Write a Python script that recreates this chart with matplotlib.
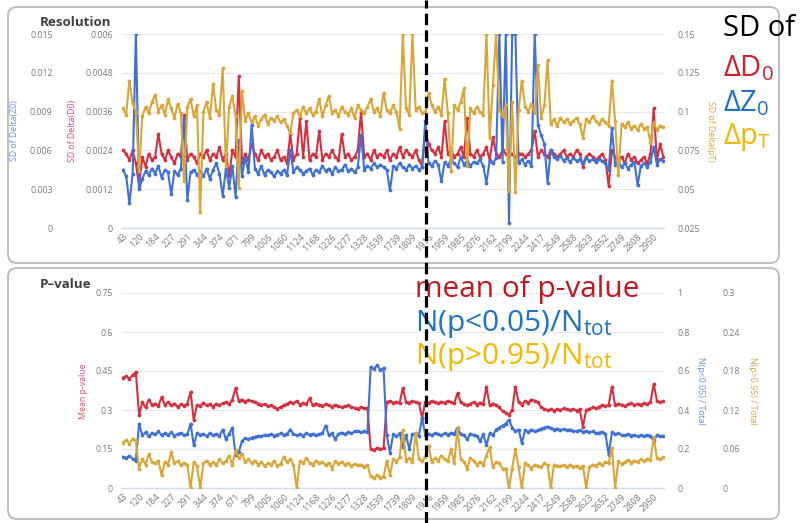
import matplotlib
matplotlib.use('Agg')
import matplotlib.pyplot as plt
from matplotlib.patches import FancyBboxPatch
from matplotlib.lines import Line2D
from matplotlib.transforms import IdentityTransform

plt.rcParams['font.family'] = ['Open Sans', 'DejaVu Sans']
plt.rcParams['mathtext.fontset'] = 'custom'
plt.rcParams['mathtext.rm'] = 'Open Sans'
plt.rcParams['mathtext.it'] = 'Open Sans:italic'
plt.rcParams['mathtext.bf'] = 'Open Sans:bold'

# ---------------- data ----------------
run_labels = ['43', '120', '184', '227', '291', '344', '374', '671', '799', '1005',
              '1060', '1124', '1168', '1226', '1277', '1328', '1539', '1739', '1809',
              '1916', '1959', '1985', '2076', '2162', '2199', '2244', '2417', '2549',
              '2588', '2623', '2652', '2749', '2808', '2950']
label_step = 5

sd_d0 = [
    0.0024, 0.0023, 0.0021, 0.0024, 0.0020, 0.0013, 0.0022, 0.0019, 0.0023, 0.0021,
    0.0022, 0.0029, 0.0023, 0.0021, 0.0024, 0.0022, 0.0020, 0.0023, 0.0022, 0.0035,
    0.0021, 0.0023, 0.0022, 0.0020, 0.0023, 0.0022, 0.0024, 0.0021, 0.0023, 0.0022,
    0.0025, 0.0021, 0.0023, 0.0016, 0.0024, 0.0022, 0.0047, 0.0020, 0.0023, 0.0021,
    0.0026, 0.0023, 0.0021, 0.0024, 0.0022, 0.0023, 0.0021, 0.0022, 0.0024, 0.0021,
    0.0022, 0.0020, 0.0029, 0.0021, 0.0023, 0.0034, 0.0022, 0.0033, 0.0021, 0.0023,
    0.0022, 0.0030, 0.0021, 0.0023, 0.0022, 0.0024, 0.0022, 0.0021, 0.0029, 0.0022,
    0.0023, 0.0021, 0.0022, 0.0024, 0.0036, 0.0022, 0.0023, 0.0021, 0.0024, 0.0022,
    0.0023, 0.0022, 0.0024, 0.0021, 0.0023, 0.0022, 0.0025, 0.0022, 0.0024, 0.0023,
    0.0022, 0.0024, 0.0021, 0.0019, 0.0030, 0.0026, 0.0024, 0.0023, 0.0025, 0.0022,
    0.0033, 0.0023, 0.0024, 0.0022, 0.0023, 0.0025, 0.0022, 0.0034, 0.0023, 0.0022,
    0.0024, 0.0022, 0.0023, 0.0025, 0.0021, 0.0028, 0.0023, 0.0022, 0.0024, 0.0023,
    0.0023, 0.0023, 0.0022, 0.0023, 0.0023, 0.0022, 0.0023, 0.0024, 0.0030, 0.0022,
    0.0024, 0.0023, 0.0022, 0.0024, 0.0023, 0.0022, 0.0023, 0.0024, 0.0022, 0.0023,
    0.0022, 0.0024, 0.0023, 0.0019, 0.0022, 0.0023, 0.0022, 0.0021, 0.0022, 0.0023,
    0.0021, 0.0013, 0.0024, 0.0022, 0.0021, 0.0022, 0.0020, 0.0023, 0.0021, 0.0022,
    0.0020, 0.0021, 0.0022, 0.0020, 0.0023, 0.0037, 0.0021, 0.0026, 0.0022,
]

sd_z0 = [
    0.0045, 0.0040, 0.0019, 0.0042, 0.0150, 0.0030, 0.0038, 0.0044, 0.0041, 0.0046,
    0.0042, 0.0048, 0.0039, 0.0045, 0.0043, 0.0026, 0.0044, 0.0041, 0.0046, 0.0085,
    0.0022, 0.0043, 0.0045, 0.0041, 0.0044, 0.0040, 0.0046, 0.0038, 0.0045, 0.0050,
    0.0042, 0.0025, 0.0046, 0.0031, 0.0048, 0.0024, 0.0068, 0.0040, 0.0055, 0.0043,
    0.0080, 0.0046, 0.0042, 0.0048, 0.0041, 0.0045, 0.0043, 0.0040, 0.0044, 0.0042,
    0.0045, 0.0041, 0.0060, 0.0043, 0.0047, 0.0045, 0.0042, 0.0044, 0.0046, 0.0041,
    0.0045, 0.0043, 0.0048, 0.0044, 0.0046, 0.0042, 0.0047, 0.0044, 0.0045, 0.0049,
    0.0044, 0.0046, 0.0043, 0.0047, 0.0072, 0.0045, 0.0048, 0.0046, 0.0050, 0.0047,
    0.0049, 0.0047, 0.0045, 0.0029, 0.0048, 0.0046, 0.0050, 0.0047, 0.0045, 0.0049,
    0.0046, 0.0048, 0.0045, 0.0047, 0.0083, 0.0050, 0.0048, 0.0052, 0.0049, 0.0036,
    0.0051, 0.0048, 0.0053, 0.0050, 0.0047, 0.0055, 0.0049, 0.0052, 0.0048, 0.0051,
    0.0050, 0.0053, 0.0048, 0.0035, 0.0052, 0.0050, 0.0054, 0.0150, 0.0051, 0.0150,
    0.0004, 0.0150, 0.0150, 0.0050, 0.0053, 0.0049, 0.0052, 0.0048, 0.0150, 0.0080,
    0.0072, 0.0065, 0.0035, 0.0060, 0.0055, 0.0053, 0.0056, 0.0052, 0.0054, 0.0051,
    0.0054, 0.0052, 0.0053, 0.0050, 0.0054, 0.0052, 0.0053, 0.0051, 0.0053, 0.0052,
    0.0050, 0.0045, 0.0077, 0.0049, 0.0052, 0.0047, 0.0050, 0.0046, 0.0049, 0.0051,
    0.0033, 0.0048, 0.0050, 0.0047, 0.0051, 0.0063, 0.0049, 0.0053, 0.0052,
]

sd_pt = [
    0.102, 0.098, 0.120, 0.105, 0.100, 0.062, 0.097, 0.103, 0.099, 0.106,
    0.111, 0.100, 0.104, 0.098, 0.108, 0.102, 0.096, 0.105, 0.099, 0.055,
    0.103, 0.108, 0.097, 0.104, 0.035, 0.100, 0.106, 0.096, 0.118, 0.101,
    0.098, 0.128, 0.065, 0.103, 0.110, 0.097, 0.051, 0.113, 0.094, 0.099,
    0.093, 0.097, 0.091, 0.095, 0.098, 0.092, 0.096, 0.094, 0.097, 0.093,
    0.095, 0.091, 0.086, 0.099, 0.101, 0.097, 0.103, 0.099, 0.102, 0.098,
    0.100, 0.108, 0.097, 0.104, 0.110, 0.099, 0.101, 0.097, 0.103, 0.100,
    0.098, 0.102, 0.096, 0.104, 0.101, 0.099, 0.103, 0.108, 0.100, 0.102,
    0.097, 0.112, 0.101, 0.099, 0.104, 0.100, 0.089, 0.150, 0.102, 0.098,
    0.150, 0.101, 0.103, 0.099, 0.100, 0.112, 0.104, 0.100, 0.103, 0.098,
    0.121, 0.099, 0.062, 0.104, 0.101, 0.106, 0.115, 0.065, 0.102, 0.099,
    0.103, 0.100, 0.098, 0.150, 0.083, 0.117, 0.150, 0.101, 0.097, 0.104,
    0.049, 0.106, 0.048, 0.101, 0.120, 0.103, 0.100, 0.105, 0.099, 0.130,
    0.096, 0.104, 0.133, 0.092, 0.095, 0.091, 0.096, 0.093, 0.095, 0.092,
    0.094, 0.096, 0.092, 0.083, 0.095, 0.093, 0.097, 0.094, 0.092, 0.095,
    0.093, 0.091, 0.120, 0.094, 0.059, 0.092, 0.090, 0.093, 0.089, 0.091,
    0.088, 0.092, 0.089, 0.090, 0.080, 0.093, 0.088, 0.091, 0.090,
]

mean_p = [
    0.425, 0.430, 0.420, 0.435, 0.445, 0.280, 0.330, 0.310, 0.340, 0.320,
    0.325, 0.315, 0.350, 0.320, 0.330, 0.318, 0.325, 0.312, 0.322, 0.316,
    0.325, 0.370, 0.260, 0.320, 0.315, 0.328, 0.318, 0.322, 0.312, 0.324,
    0.318, 0.326, 0.330, 0.322, 0.340, 0.385, 0.335, 0.340, 0.332, 0.338,
    0.335, 0.330, 0.325, 0.320, 0.322, 0.315, 0.318, 0.310, 0.305, 0.312,
    0.318, 0.324, 0.330, 0.326, 0.335, 0.320, 0.328, 0.322, 0.345, 0.318,
    0.325, 0.320, 0.316, 0.322, 0.318, 0.312, 0.320, 0.316, 0.310, 0.314,
    0.318, 0.312, 0.308, 0.305, 0.310, 0.306, 0.308, 0.150, 0.145, 0.155,
    0.150, 0.152, 0.330, 0.335, 0.328, 0.332, 0.326, 0.385, 0.330, 0.328,
    0.335, 0.330, 0.326, 0.270, 0.332, 0.328, 0.335, 0.330, 0.326, 0.332,
    0.328, 0.335, 0.330, 0.326, 0.365, 0.330, 0.322, 0.318, 0.325, 0.330,
    0.320, 0.328, 0.322, 0.390, 0.318, 0.325, 0.320, 0.310, 0.295, 0.290,
    0.280, 0.300, 0.390, 0.330, 0.320, 0.335, 0.328, 0.340, 0.336, 0.330,
    0.310, 0.305, 0.300, 0.302, 0.298, 0.304, 0.300, 0.306, 0.302, 0.300,
    0.304, 0.298, 0.302, 0.235, 0.300, 0.304, 0.310, 0.306, 0.312, 0.318,
    0.315, 0.320, 0.390, 0.318, 0.325, 0.320, 0.315, 0.322, 0.326, 0.318,
    0.324, 0.320, 0.326, 0.322, 0.330, 0.400, 0.335, 0.330, 0.334,
]

frac_low = [
    0.160, 0.155, 0.165, 0.150, 0.140, 0.330, 0.270, 0.285, 0.265, 0.280,
    0.275, 0.290, 0.270, 0.280, 0.272, 0.285, 0.268, 0.278, 0.282, 0.270,
    0.275, 0.330, 0.220, 0.280, 0.272, 0.278, 0.265, 0.282, 0.270, 0.276,
    0.268, 0.300, 0.250, 0.278, 0.310, 0.170, 0.185, 0.240, 0.255, 0.250,
    0.258, 0.262, 0.268, 0.265, 0.272, 0.270, 0.276, 0.268, 0.274, 0.280,
    0.272, 0.278, 0.300, 0.276, 0.270, 0.275, 0.268, 0.280, 0.273, 0.278,
    0.270, 0.276, 0.282, 0.320, 0.272, 0.280, 0.250, 0.278, 0.284, 0.276,
    0.285, 0.280, 0.290, 0.292, 0.286, 0.290, 0.285, 0.620, 0.610, 0.630,
    0.605, 0.615, 0.270, 0.180, 0.276, 0.265, 0.280, 0.210, 0.272, 0.200,
    0.275, 0.280, 0.268, 0.360, 0.272, 0.278, 0.270, 0.282, 0.276, 0.270,
    0.280, 0.274, 0.282, 0.278, 0.310, 0.276, 0.270, 0.250, 0.278, 0.272,
    0.268, 0.240, 0.275, 0.220, 0.280, 0.270, 0.300, 0.310, 0.320, 0.330,
    0.350, 0.310, 0.290, 0.300, 0.230, 0.295, 0.288, 0.300, 0.292, 0.296,
    0.305, 0.310, 0.315, 0.306, 0.300, 0.304, 0.298, 0.302, 0.296, 0.300,
    0.294, 0.290, 0.296, 0.288, 0.292, 0.286, 0.290, 0.280, 0.284, 0.288,
    0.278, 0.170, 0.285, 0.276, 0.280, 0.272, 0.270, 0.276, 0.268, 0.272,
    0.265, 0.270, 0.266, 0.272, 0.268, 0.240, 0.270, 0.266, 0.268,
]

frac_high = [
    0.070, 0.074, 0.068, 0.076, 0.072, 0.030, 0.045, 0.036, 0.052, 0.040,
    0.038, 0.042, 0.020, 0.040, 0.036, 0.055, 0.038, 0.041, 0.035, 0.039,
    0.036, 0.000, 0.040, 0.034, 0.000, 0.038, 0.042, 0.036, 0.040, 0.035,
    0.044, 0.038, 0.041, 0.050, 0.036, 0.058, 0.046, 0.052, 0.040, 0.044,
    0.038, 0.042, 0.036, 0.040, 0.034, 0.038, 0.036, 0.041, 0.034, 0.037,
    0.048, 0.040, 0.044, 0.036, 0.000, 0.042, 0.038, 0.046, 0.039, 0.036,
    0.042, 0.038, 0.040, 0.035, 0.039, 0.030, 0.041, 0.037, 0.040, 0.036,
    0.038, 0.034, 0.037, 0.035, 0.036, 0.033, 0.035, 0.018, 0.015, 0.020,
    0.016, 0.017, 0.042, 0.020, 0.045, 0.040, 0.048, 0.090, 0.042, 0.046,
    0.040, 0.085, 0.044, 0.041, 0.048, 0.065, 0.040, 0.046, 0.042, 0.050,
    0.044, 0.041, 0.060, 0.038, 0.092, 0.045, 0.040, 0.030, 0.046, 0.042,
    0.036, 0.040, 0.036, 0.050, 0.063, 0.032, 0.040, 0.038, 0.030, 0.030,
    0.000, 0.030, 0.060, 0.032, 0.000, 0.038, 0.035, 0.030, 0.036, 0.034,
    0.032, 0.038, 0.035, 0.000, 0.036, 0.034, 0.034, 0.035, 0.032, 0.036,
    0.033, 0.034, 0.031, 0.034, 0.000, 0.032, 0.036, 0.034, 0.038, 0.035,
    0.040, 0.038, 0.062, 0.000, 0.041, 0.037, 0.040, 0.043, 0.039, 0.042,
    0.040, 0.044, 0.041, 0.045, 0.043, 0.078, 0.046, 0.044, 0.047,
]

d0_ticks = [0, 0.0012, 0.0024, 0.0036, 0.0048, 0.006]
d0_ticklabels = ['0', '0.0012', '0.0024', '0.0036', '0.0048', '0.006']
z0_ticks = [0, 0.003, 0.006, 0.009, 0.012, 0.015]
z0_ticklabels = ['0', '0.003', '0.006', '0.009', '0.012', '0.015']
pt_ticks = [0.025, 0.05, 0.075, 0.1, 0.125, 0.15]
pt_ticklabels = ['0.025', '0.05', '0.075', '0.1', '0.125', '0.15']
p_ticks = [0, 0.15, 0.3, 0.45, 0.6, 0.75]
p_ticklabels = ['0', '0.15', '0.3', '0.45', '0.6', '0.75']
low_ticks = [0, 0.2, 0.4, 0.6, 0.8, 1.0]
low_ticklabels = ['0', '0.2', '0.4', '0.6', '0.8', '1']
high_ticks = [0, 0.06, 0.12, 0.18, 0.24, 0.3]
high_ticklabels = ['0', '0.06', '0.12', '0.18', '0.24', '0.3']

# ---------------- styling ----------------
RED = '#D5303F'
BLUE = '#3E70D8'
GOLD = '#D9A638'
TICKC = '#7A7A7A'
GRIDC = '#E9E9E9'

W, H = 800, 523
fig = plt.figure(figsize=(W / 100, H / 100), dpi=100)
fig.patch.set_facecolor('white')


def fx(px):
    return px / W


def fy(py):
    return 1 - py / H


# panel frames (pixel coordinates)
for (x0, y0, x1, y1) in [(8, 7, 779, 263), (8, 268, 779, 519)]:
    box = FancyBboxPatch((x0, H - y1), x1 - x0, y1 - y0,
                         boxstyle='round,pad=0,rounding_size=9',
                         transform=IdentityTransform(), fc='white',
                         ec='#BEBEBE', lw=1.4, zorder=-5)
    fig.patches.append(box)

n = len(sd_d0)
xs = list(range(n))
x_left, x_right = 122, 664
xlim = (-0.31, 168.2)


def base_axes(top_px, bottom_px):
    ax = fig.add_axes([fx(x_left), fy(bottom_px), fx(x_right) - fx(x_left),
                       (bottom_px - top_px) / H])
    ax.patch.set_visible(False)
    for s in ax.spines.values():
        s.set_visible(False)
    ax.spines['bottom'].set_visible(True)
    ax.spines['bottom'].set_color('#D3DAE8')
    ax.spines['bottom'].set_linewidth(1.0)
    ax.set_xlim(*xlim)
    ax.yaxis.grid(True, color=GRIDC, lw=0.9)
    ax.set_axisbelow(True)
    ax.set_xticks(xs[::label_step][:len(run_labels)])
    ax.set_xticklabels(run_labels, rotation=45, ha='right',
                       rotation_mode='anchor', fontsize=6.5, color=TICKC)
    ax.tick_params(axis='x', length=0, pad=3)
    ax.tick_params(axis='y', length=0, labelsize=6.3, labelcolor=TICKC)
    return ax


def twin(ax, side, pad):
    t = ax.twinx()
    t.patch.set_visible(False)
    for s in t.spines.values():
        s.set_visible(False)
    t.set_xlim(*xlim)
    if side == 'left':
        t.yaxis.tick_left()
    else:
        t.yaxis.tick_right()
    t.tick_params(axis='y', length=0, labelsize=6.3, labelcolor=TICKC, pad=pad)
    return t


line_kw = dict(lw=1.5, marker='o', ms=2.7, mew=0)

# ---- top panel: resolution ----
ax_d0 = base_axes(34, 228)
ax_d0.set_ylim(0, 0.006)
ax_d0.set_yticks(d0_ticks)
ax_d0.set_yticklabels(d0_ticklabels)
ax_d0.tick_params(axis='y', pad=6.5)
ax_d0.plot(xs, sd_d0, color=RED, **line_kw)

ax_z0 = twin(ax_d0, 'left', 50)
ax_z0.set_ylim(0, 0.015)
ax_z0.set_yticks(z0_ticks)
ax_z0.set_yticklabels(z0_ticklabels)
ax_z0.plot(xs, sd_z0, color=BLUE, **line_kw)

ax_pt = twin(ax_d0, 'right', 9.4)
ax_pt.set_ylim(0.025, 0.15)
ax_pt.set_yticks(pt_ticks)
ax_pt.set_yticklabels(pt_ticklabels)
ax_pt.plot(xs, sd_pt, color=GOLD, **line_kw)

# ---- bottom panel: p-value ----
ax_p = base_axes(293, 488)
ax_p.set_ylim(0, 0.75)
ax_p.set_yticks(p_ticks)
ax_p.set_yticklabels(p_ticklabels)
ax_p.tick_params(axis='y', pad=6.5)
ax_p.plot(xs, mean_p, color=RED, **line_kw)

ax_lo = twin(ax_p, 'right', 9.4)
ax_lo.set_ylim(0, 1.0)
ax_lo.set_yticks(low_ticks)
ax_lo.set_yticklabels(low_ticklabels)
ax_lo.plot(xs, frac_low, color=BLUE, **line_kw)

ax_hi = twin(ax_p, 'right', 41.8)
ax_hi.set_ylim(0, 0.3)
ax_hi.set_yticks(high_ticks)
ax_hi.set_yticklabels(high_ticklabels)
ax_hi.plot(xs, frac_high, color=GOLD, **line_kw)

# ---- axis titles ----
lab_kw = dict(fontsize=6.3, ha='center', va='center')
fig.text(fx(15), fy(131), 'SD of Delta(Z0)', rotation=90, color='#6590E0', **lab_kw)
fig.text(fx(72), fy(131), 'SD of Delta(D0)', rotation=90, color='#E05068', **lab_kw)
fig.text(fx(711), fy(131), 'SD of Delta(pT)', rotation=270, color='#D8A548', **lab_kw)
fig.text(fx(83), fy(391), 'Mean p-value', rotation=90, color='#E05068', **lab_kw)
fig.text(fx(700), fy(391), 'N(p<0.05) / Total', rotation=270, color='#6590E0', **lab_kw)
fig.text(fx(753), fy(391), 'N(p>0.95) / Total', rotation=270, color='#D8A548', **lab_kw)

fig.text(fx(40), fy(23), 'Resolution', fontsize=9.6, fontweight='bold',
         color='#404040', va='center', ha='left')
fig.text(fx(40), fy(284), 'P\u2013value', fontsize=9.6, fontweight='bold',
         color='#404040', va='center', ha='left')

# ---- annotation legends ----
big = dict(fontsize=21, ha='left', va='center')
fig.text(fx(723), fy(28), 'SD of', color='black', **big)
fig.text(fx(723), fy(68), '\u0394D$_0$', color='#D0202E', **big)
fig.text(fx(723), fy(103), '\u0394Z$_0$', color='#1E73C8', **big)
fig.text(fx(723), fy(137), '\u0394p$_\\mathrm{T}$', color='#F2B705', **big)

mid = dict(fontsize=21.5, ha='left', va='center')
fig.text(fx(415), fy(290), 'mean of p-value', color='#C4161F', **mid)
fig.text(fx(415), fy(324), 'N(p<0.05)/N$_\\mathrm{tot}$', color='#1E73C8', **mid)
fig.text(fx(415), fy(357), 'N(p>0.95)/N$_\\mathrm{tot}$', color='#F5B800', **mid)

# ---- dashed separator ----
fig.add_artist(Line2D([fx(426), fx(426)], [0, 1], transform=fig.transFigure,
                      color='black', lw=2.3, dashes=(3.6, 1.6), zorder=20))

fig.savefig('out.png', dpi=100)
